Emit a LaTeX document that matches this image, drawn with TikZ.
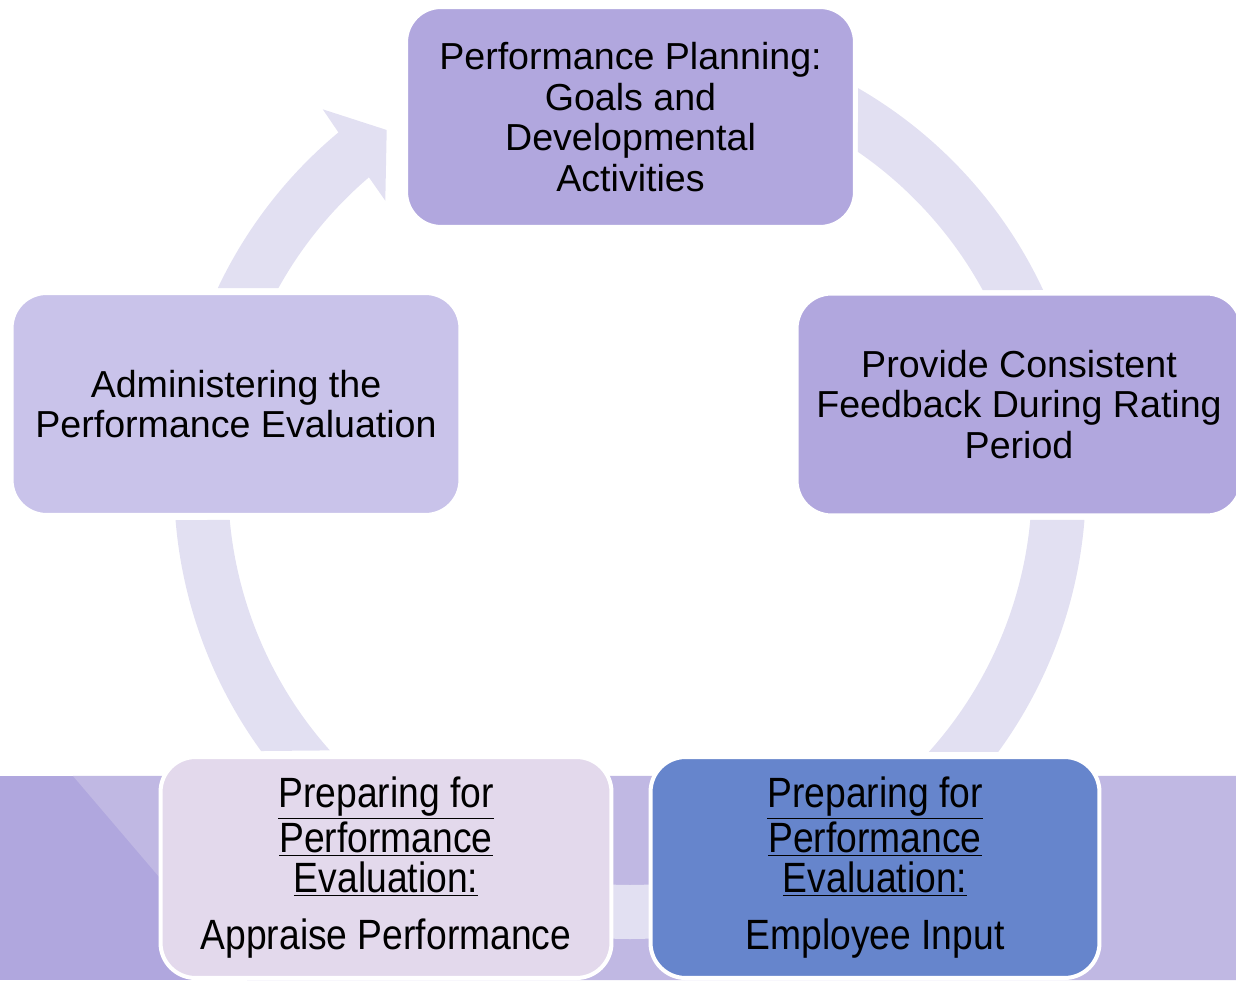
\documentclass[tikz,border=0pt]{standalone}
\usepackage{fontspec}
\setmainfont{Liberation Sans}
\newfontfamily\tallfont[FakeStretch=0.88]{Liberation Sans}
\usepackage{tikz}
\usetikzlibrary{calc}
\definecolor{planfill}{HTML}{B1A7DE}
\definecolor{adminfill}{HTML}{C9C3EA}
\definecolor{appraisefill}{HTML}{E3D9EC}
\definecolor{inputfill}{HTML}{6685CC}
\definecolor{ringfill}{HTML}{E2E0F2}
\definecolor{banddark}{HTML}{B0A7DE}
\definecolor{bandlight}{HTML}{C0B8E3}
\tikzstyle{box} = [draw=white, line width=2.3pt, rectangle, rounded corners=0.7cm,
    minimum width=8.98cm, minimum height=4.44cm, align=center,
    font=\fontsize{21.4}{23}\selectfont]
\tikzstyle{lowbox} = [box, minimum width=9.02cm, minimum height=4.42cm,
    font=\tallfont\fontsize{24.1}{23}\selectfont]
\tikzstyle{ring} = [fill=ringfill]
\newcommand{\head}[1]{\underline{#1}}

\begin{document}
\begin{tikzpicture}[x=0.02cm, y=0.02cm]
    \useasboundingbox (0,0) rectangle (1236,980);
    \fill[banddark] (0,0) rectangle (1236,204);
    \fill[bandlight] (73,204) -- (1236,204) -- (1236,0) -- (247,0) -- cycle;
    \coordinate (c) at (630,497);
    \fill[ring] ($(c)+(60:456)$) arc[start angle=60, end angle=25.04, radius=456]
        -- ($(c)+(28.69:402)$) arc[start angle=28.69, end angle=55.45, radius=402] -- cycle;
    \fill[ring] ($(c)+(-4.65:456)$) arc[start angle=-4.65, end angle=-36.15, radius=456]
        -- ($(c)+(-42:402)$) arc[start angle=-42, end angle=-5.28, radius=402] -- cycle;
    \fill[ring] ($(c)+(-80:456)$) arc[start angle=-80, end angle=-100, radius=456]
        -- ($(c)+(-100:402)$) arc[start angle=-100, end angle=-80, radius=402] -- cycle;
    \fill[ring] ($(c)+(216.0:456)$) arc[start angle=216.0, end angle=184.66, radius=456]
        -- ($(c)+(185.28:402)$) arc[start angle=185.28, end angle=221.7, radius=402] -- cycle;
    \fill[ring] ($(c)+(154.7:456)$) arc[start angle=154.7, end angle=129.75, radius=456]
        -- (322.7,870.7) -- (386.7,850) -- (385.3,779.3)
        -- ($(c)+(130.5:402)$) arc[start angle=130.5, end angle=151, radius=402] -- cycle;
    \node [box, fill=planfill, minimum height=4.4cm] (plan) at (630.5,863)
        {Performance Planning:\\Goals and\\Developmental\\Activities};
    \node [box, fill=planfill, minimum width=8.9cm] (feedback) at (1019,575.5)
        {Provide Consistent\\Feedback During Rating\\Period};
    \node [box, fill=adminfill] (admin) at (236,576)
        {Administering the\\Performance Evaluation};
    \node [lowbox, fill=appraisefill] (appraise) at (386,112.5)
        {\head{Preparing for}\\\head{Performance}\\\head{Evaluation:}\\[0.33cm]Appraise Performance};
    \node [lowbox, fill=inputfill, minimum width=8.98cm] (input) at (875,112.5)
        {\head{Preparing for}\\\head{Performance}\\\head{Evaluation:}\\[0.33cm]Employee Input};
\end{tikzpicture}
\end{document}
